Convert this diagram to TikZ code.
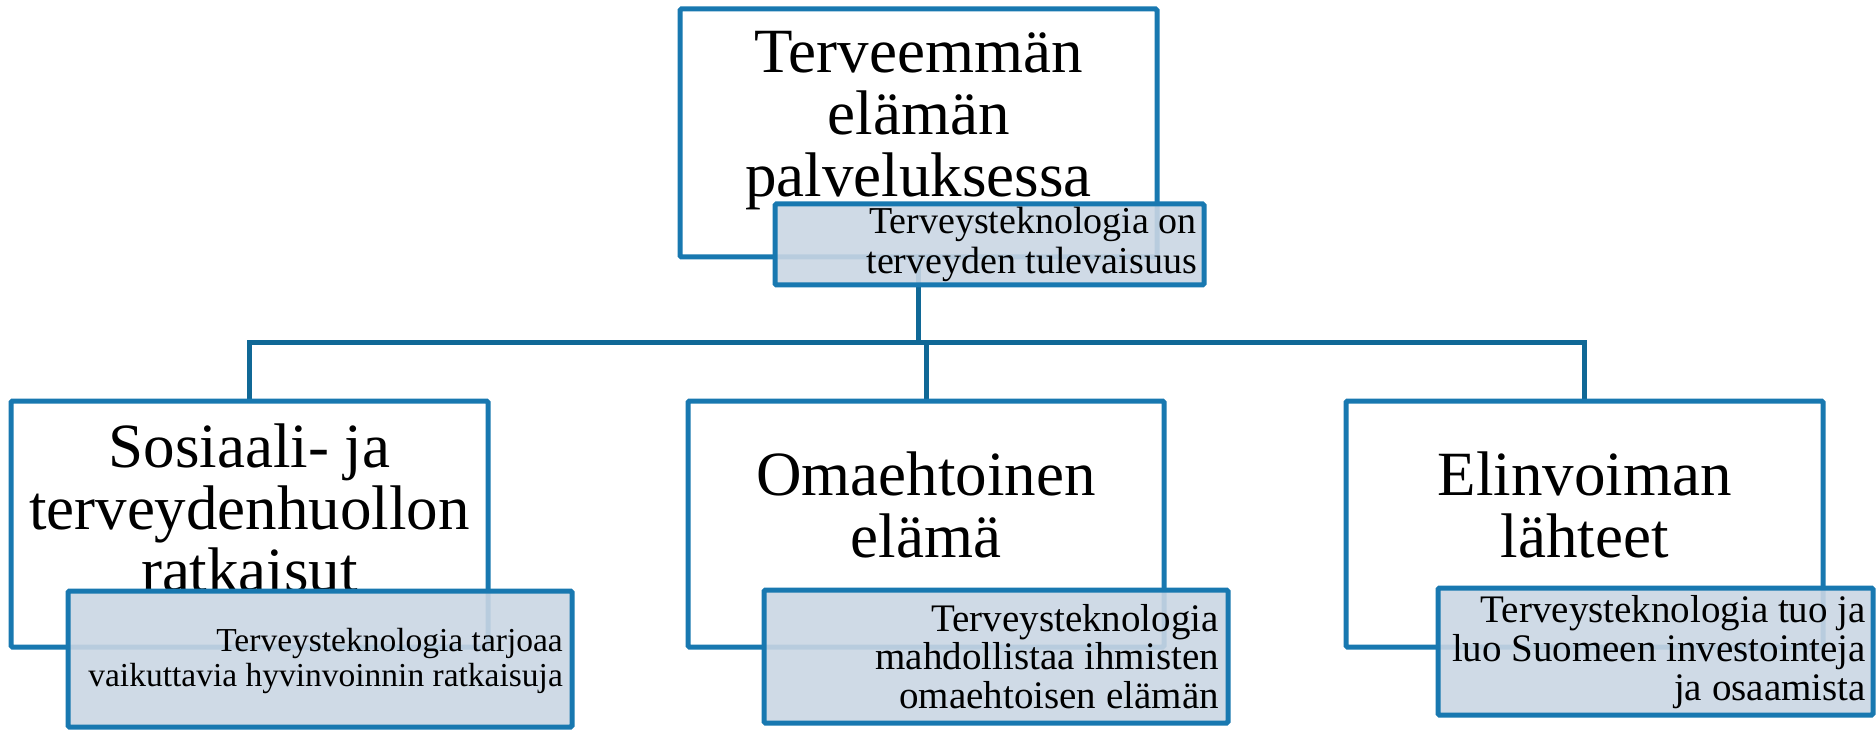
\documentclass[tikz,border=0pt]{standalone}
\usepackage{fontspec}
\setmainfont{Liberation Serif}
\definecolor{boxblue}{RGB}{24,120,176}
\definecolor{linkblue}{RGB}{16,104,150}
\definecolor{subfill}{RGB}{202,214,228}
\pgfdeclarelayer{paper}
\pgfdeclarelayer{bg}
\pgfsetlayers{paper,bg,main}
\tikzset{
  parentbox/.style={draw=boxblue, line width=5pt, fill=white, rectangle, inner sep=0pt, rounded corners=1.5pt},
  subbox/.style={draw=boxblue, line width=5pt, fill=subfill, fill opacity=0.9, draw opacity=1, rectangle, inner sep=0pt, rounded corners=1.5pt},
  bigtext/.style={align=center, inner sep=0pt, font=\fontsize{63}{62}\selectfont},
  subtext/.style={align=right, inner sep=0pt, anchor=east},
  link/.style={draw=linkblue, line width=5pt},
}
\begin{document}
\begin{tikzpicture}[x=1pt,y=-1pt]
\begin{pgfonlayer}{paper}
\useasboundingbox[fill=white] (0,0) rectangle (1876,729);
\end{pgfonlayer}

% top group
\node[parentbox, minimum width=477pt, minimum height=248pt] (top) at (918.5,133) {};
\node[bigtext] (toptext) at (918.5,120.5) {Terveemmän\\elämän\\palveluksessa};
\node[subbox, minimum width=429pt, minimum height=81pt] (topsub) at (989.5,244.5) {};
\node[subtext, font=\fontsize{38}{40}\selectfont] (topsubtext) at (1197,244.5) {Terveysteknologia on\\terveyden tulevaisuus};

% left group
\node[parentbox, minimum width=477pt, minimum height=246pt] (left) at (249.5,524) {};
\node[bigtext] (lefttext) at (249.5,508) {Sosiaali- ja\\terveydenhuollon\\ratkaisut};
\node[subbox, minimum width=504pt, minimum height=136pt] (leftsub) at (320,659) {};
\node[subtext, font=\fontsize{33.5}{35}\selectfont] (leftsubtext) at (563,661) {Terveysteknologia tarjoaa\\vaikuttavia hyvinvoinnin ratkaisuja};

% middle group
\node[parentbox, minimum width=476pt, minimum height=246pt] (mid) at (926,524) {};
\node[bigtext] (midtext) at (926,505) {Omaehtoinen\\elämä};
\node[subbox, minimum width=464pt, minimum height=133pt] (midsub) at (996,656.5) {};
\node[subtext, font=\fontsize{39}{38.5}\selectfont] (midsubtext) at (1219,656.5) {Terveysteknologia\\mahdollistaa ihmisten\\omaehtoisen elämän};

% right group
\node[parentbox, minimum width=477pt, minimum height=246pt] (right) at (1584.5,524) {};
\node[bigtext] (righttext) at (1584.5,505) {Elinvoiman\\lähteet};
\node[subbox, minimum width=435pt, minimum height=127pt] (rightsub) at (1655.5,651.5) {};
\node[subtext, font=\fontsize{39}{39}\selectfont] (rightsubtext) at (1866,652.5) {Terveysteknologia tuo ja\\luo Suomeen investointeja\\ja osaamista};

% connectors
\coordinate (bus) at (918.5,343);
\begin{pgfonlayer}{bg}
\draw[link] (top.south) -- (bus);
\draw[link] (left.north) |- (bus) -| (right.north);
\draw[link] (bus -| mid.north) -- (mid.north);
\end{pgfonlayer}
\end{tikzpicture}
\end{document}
